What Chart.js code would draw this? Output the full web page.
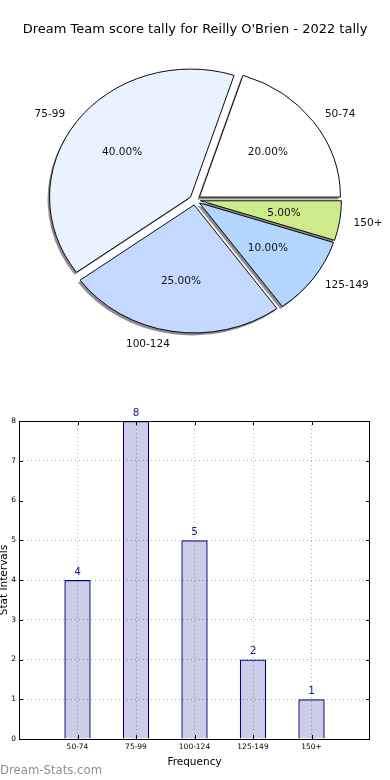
<!DOCTYPE html>
<html>
<head>
<meta charset="utf-8">
<script src="https://cdn.jsdelivr.net/npm/chart.js@4.4.1/dist/chart.umd.min.js"></script>
<style>
    body { margin: 0; background: #fff; }
    #wrap { position: relative; width: 390px; height: 780px; overflow: hidden; }
    #pieChart { position: absolute; left: 0; top: 0; }
    #barChart { position: absolute; left: 0; top: 380px; }
    #mark { position: absolute; left: 0; top: 763px; font: 11.7px "DejaVu Sans", sans-serif; line-height: 14px; color: #8f8f8f; }
</style>
</head>
<body>
<div id="wrap">
    <canvas id="pieChart" width="390" height="370"></canvas>
    <canvas id="barChart" width="390" height="400"></canvas>
    <div id="mark">Dream-Stats.com</div>
</div>
<script>
// Score intervals and how many games fell in each
const intervals = ['50-74', '75-99', '100-124', '125-149', '150+'];
const counts = [4, 8, 5, 2, 1];
const pieColors = ['#ffffff', '#ebf2ff', '#c5d8ff', '#b3d6ff', '#cdeb8b'];
const yTicks = [0, 1, 2, 3, 4, 5, 6, 7, 8];

const chartTitle = "Dream Team score tally for Reilly O'Brien - 2022 tally";
const FONT = '"DejaVu Sans", sans-serif';
const SQUASH = 128 / 141; // the pie is drawn as an ellipse, like the original
const EXPLODE = 5.5;      // px each slice is pushed out

Chart.defaults.font.family = FONT;

function squash(ctx, x, y) {
    ctx.translate(x, y);
    ctx.scale(1, SQUASH);
    ctx.translate(-x, -y);
}

function midAngle(a) {
    return (a.startAngle + a.endAngle) / 2;
}

// Pie: ellipse, exploded slices, shadows under the slices, labels
const piePlugin = {
    id: 'pieExtras',
    beforeDatasetsDraw(chart) {
        const ctx = chart.ctx;
        const arcs = chart.getDatasetMeta(0).data;
        const { x, y } = arcs[0];
        // push every slice out without growing its radius (chart.js offset does)
        arcs.forEach(a => {
            if (a._exploded) return;
            const base = a.draw;
            a.draw = function (c, area) {
                const m = midAngle(this);
                c.save();
                c.translate(Math.cos(m) * EXPLODE, Math.sin(m) * EXPLODE);
                base.call(this, c, area);
                c.restore();
            };
            a._exploded = true;
        });
        ctx.save();
        ctx.save();
        ctx.translate(-2, 2.5);
        squash(ctx, x, y);
        ctx.fillStyle = '#8e8e8e';
        arcs.forEach(a => {
            const m = midAngle(a);
            const cx = x + Math.cos(m) * EXPLODE, cy = y + Math.sin(m) * EXPLODE;
            ctx.beginPath();
            ctx.moveTo(cx, cy);
            ctx.arc(cx, cy, a.outerRadius, a.startAngle, a.endAngle);
            ctx.closePath();
            ctx.fill();
        });
        ctx.restore();
        squash(ctx, x, y);
    },
    afterDatasetsDraw(chart) {
        const ctx = chart.ctx;
        ctx.restore();
        const meta = chart.getDatasetMeta(0);
        const values = chart.data.datasets[0].data;
        const labels = chart.data.labels;
        const total = values.reduce((s, v) => s + v, 0);
        ctx.save();
        ctx.fillStyle = '#111';
        ctx.font = '10.5px ' + FONT;
        ctx.textBaseline = 'middle';
        meta.data.forEach((a, i) => {
            const m = midAngle(a);
            const at = (f) => [
                a.x + Math.cos(m) * (EXPLODE + a.outerRadius * f),
                a.y + SQUASH * Math.sin(m) * (EXPLODE + a.outerRadius * f)
            ];
            let [px, py] = at(0.6);
            ctx.textAlign = 'center';
            ctx.fillText((values[i] / total * 100).toFixed(2) + '%', px, py);
            [px, py] = at(1.1);
            ctx.textAlign = Math.cos(m) >= 0 ? 'left' : 'right';
            ctx.fillText(labels[i], px, py);
        });
        ctx.restore();
    }
};

function initPieChart() {
    const ctx = document.getElementById('pieChart').getContext('2d');
    // Chart.js goes clockwise, the original goes counter-clockwise from 3 o'clock
    const order = intervals.map((_, i) => i).reverse();
    new Chart(ctx, {
        type: 'pie',
        data: {
            labels: order.map(i => intervals[i]),
            datasets: [{
                data: order.map(i => counts[i]),
                backgroundColor: order.map(i => pieColors[i]),
                borderColor: '#000',
                borderWidth: 1,
                hoverOffset: 0,
                radius: 141,
                clip: false
            }]
        },
        options: {
            responsive: false,
            animation: false,
            rotation: 90,
            layout: { padding: { top: 0, bottom: 17.6, left: 0, right: 0 } },
            plugins: {
                legend: { display: false },
                tooltip: { enabled: false },
                title: {
                    display: true,
                    text: chartTitle,
                    color: '#000',
                    font: { size: 13, weight: 'normal' },
                    padding: { top: 22, bottom: 10 }
                }
            }
        },
        plugins: [piePlugin]
    });
}

// Bars: matplotlib-like frame, inward ticks, value labels, clipped y title
const barPlugin = {
    id: 'barExtras',
    afterDatasetsDraw(chart) {
        const ctx = chart.ctx;
        ctx.save();
        ctx.fillStyle = '#1a1a8c';
        ctx.font = '10.5px ' + FONT;
        ctx.textAlign = 'center';
        ctx.textBaseline = 'middle';
        chart.getDatasetMeta(0).data.forEach((bar, i) => {
            ctx.fillText(String(counts[i]), bar.x, bar.y - 8);
        });
        ctx.restore();
    },
    afterDraw(chart) {
        const ctx = chart.ctx;
        const { left, right, top, bottom } = chart.chartArea;
        ctx.save();
        ctx.strokeStyle = '#000';
        ctx.lineWidth = 1;
        ctx.strokeRect(left + 0.5, top + 0.5, right - left - 1, bottom - top);
        ctx.beginPath();
        yTicks.forEach(v => {
            const py = Math.round(chart.scales.y.getPixelForValue(v)) + 0.5;
            ctx.moveTo(left, py); ctx.lineTo(left + 4, py);
            ctx.moveTo(right, py); ctx.lineTo(right - 4, py);
        });
        intervals.forEach((_, i) => {
            const px = Math.round(chart.scales.x.getPixelForValue(i + 1)) + 0.5;
            ctx.moveTo(px, bottom); ctx.lineTo(px, bottom - 4);
            ctx.moveTo(px, top); ctx.lineTo(px, top + 4);
        });
        ctx.stroke();
        ctx.fillStyle = '#000';
        ctx.font = '10.5px ' + FONT;
        ctx.textAlign = 'center';
        ctx.textBaseline = 'alphabetic';
        ctx.translate(6.5, (top + bottom) / 2);
        ctx.rotate(-Math.PI / 2);
        ctx.fillText('Stat Intervals', 0, 0);
        ctx.restore();
    }
};

function initBarChart() {
    const ctx = document.getElementById('barChart').getContext('2d');
    const gridColor = (c) => (c.tick && (c.tick.value === 0 || c.tick.value === 6 || c.tick.value === 8)) ? 'rgba(0,0,0,0)' : '#b0b0b0';
    new Chart(ctx, {
        type: 'bar',
        data: {
            datasets: [{
                data: counts.map((c, i) => ({ x: i + 1, y: c })),
                backgroundColor: 'rgba(0, 0, 128, 0.2)',
                borderColor: '#000080',
                borderWidth: 1.2,
                barPercentage: 0.45,
                categoryPercentage: 1
            }]
        },
        options: {
            responsive: false,
            animation: false,
            layout: { padding: { top: 41, right: 20, bottom: 10.4, left: 0 } },
            plugins: {
                legend: { display: false },
                tooltip: { enabled: false }
            },
            scales: {
                x: {
                    type: 'linear', min: 0, max: 6, offset: false,
                    ticks: {
                        stepSize: 1, autoSkip: false, maxRotation: 0, padding: 4,
                        color: '#000', font: { size: 7.5 },
                        callback: (v) => intervals[v - 1] || ''
                    },
                    grid: { color: gridColor, drawTicks: false, lineWidth: 1, offset: false },
                    border: { display: false, dash: [1, 3] },
                    title: { display: true, text: 'Frequency', color: '#000', font: { size: 10.5 }, padding: { top: 0, bottom: 1 } }
                },
                y: {
                    min: 0, max: 8,
                    afterFit: (s) => { s.width = 19; },
                    afterBuildTicks: (s) => { s.ticks = yTicks.map(v => ({ value: v })); },
                    ticks: { padding: 3, color: '#000', font: { size: 7.5 } },
                    grid: { color: gridColor, drawTicks: false, lineWidth: 1 },
                    border: { display: false, dash: [1, 3] }
                }
            }
        },
        plugins: [barPlugin]
    });
}

document.addEventListener('DOMContentLoaded', () => {
    initPieChart();
    initBarChart();
});
</script>
</body>
</html>
